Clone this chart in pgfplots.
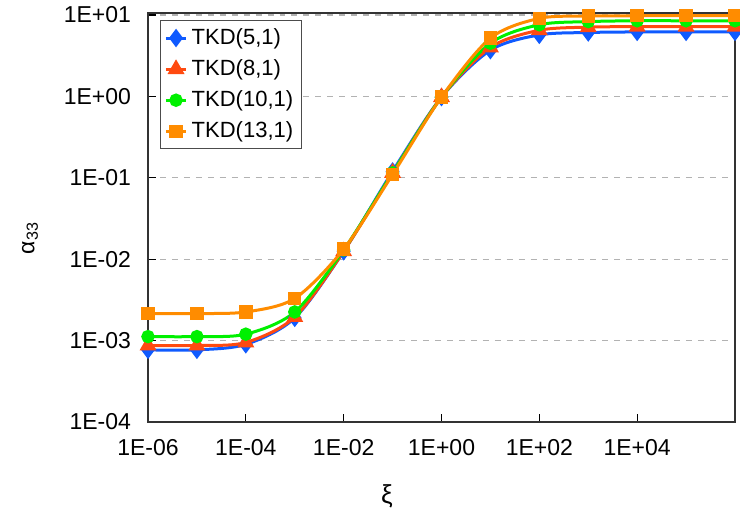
\documentclass[border=0pt]{standalone}
\usepackage{fontspec}
\setmainfont{Liberation Sans}
\usepackage{pgfplots}
\pgfplotsset{compat=1.18}
\definecolor{cBlue}{HTML}{0F5AFF}
\definecolor{cRed}{HTML}{FF4A10}
\definecolor{cGreen}{HTML}{00F000}
\definecolor{cOrange}{HTML}{FF8C00}

\begin{document}
\begin{tikzpicture}
\begin{axis}[
  scale only axis,
  width=293.5bp, height=204.5bp,
  xmode=log, ymode=log,
  xmin=1e-6, xmax=1e6,
  ymin=1e-4, ymax=10.59,
  xtick={1e-6,1e-4,1e-2,1,1e2,1e4},
  xticklabels={1E-06,1E-04,1E-02,1E+00,1E+02,1E+04},
  ytick={1e-4,1e-3,1e-2,1e-1,1,10},
  yticklabels={1E-04,1E-03,1E-02,1E-01,1E+00,1E+01},
  xminorticks=false, yminorticks=false,
  tick pos=left, tick align=inside,
  major tick length=4bp,
  tick style={draw=black, line width=0.6bp},
  axis line style={draw=black!80, line width=0.7bp},
  ymajorgrids,
  major grid style={dashed, draw=black!30, line width=0.6bp},
  tick label style={font=\fontsize{11.5bp}{13bp}\selectfont},
  yticklabel style={xshift=-5bp},
  xticklabel style={yshift=-5bp},
  xlabel={ξ},
  ylabel={α\textsubscript{33}},
  every axis x label/.style={at={(axis description cs:0.407,0)}, anchor=center, yshift=-37bp,
    font=\fontsize{13bp}{15bp}\selectfont},
  every axis y label/.style={at={(axis description cs:0,0.45)}, xshift=-59bp, anchor=center, rotate=90,
    font=\fontsize{11.5bp}{13bp}\selectfont},
  legend style={at={(axis description cs:0.02,0.983)}, anchor=north west,
    draw=black!70, line width=0.6bp, fill=white,
    font=\fontsize{11bp}{13bp}\selectfont,
    row sep=2.1bp, inner sep=2bp, cells={anchor=west}},
  legend image code/.code={\draw[mark repeat=2, mark phase=2] plot coordinates {(0cm,0cm) (0.18cm,0cm) (0.36cm,0cm)};},
  every axis plot/.append style={line width=1.5bp, smooth},
  clip=false,
]
\coordinate (ll) at (rel axis cs:0,0);
\coordinate (ur) at (rel axis cs:1,1);

\addplot[color=cBlue, mark=diamond*, mark size=3.4bp, mark options={solid}] coordinates {
  (1e-6,7.7e-4) (1e-5,7.7e-4) (1e-4,9.0e-4) (1e-3,1.9e-3) (1e-2,1.25e-2)
  (1e-1,1.2e-1) (1,0.98) (1e1,3.7) (1e2,5.7) (1e3,6.1) (1e4,6.2) (1e5,6.2) (1e6,6.2)};
\addlegendentry{TKD(5,1)}

\addplot[color=cRed, mark=triangle*, mark size=3.4bp, mark options={solid}] coordinates {
  (1e-6,8.7e-4) (1e-5,8.7e-4) (1e-4,9.5e-4) (1e-3,1.95e-3) (1e-2,1.25e-2)
  (1e-1,1.15e-1) (1,0.98) (1e1,4.0) (1e2,6.5) (1e3,7.1) (1e4,7.2) (1e5,7.2) (1e6,7.2)};
\addlegendentry{TKD(8,1)}

\addplot[color=cGreen, mark=*, mark size=2.6bp, mark options={solid}] coordinates {
  (1e-6,1.12e-3) (1e-5,1.12e-3) (1e-4,1.2e-3) (1e-3,2.25e-3) (1e-2,1.3e-2)
  (1e-1,1.15e-1) (1,0.98) (1e1,4.5) (1e2,7.6) (1e3,8.3) (1e4,8.5) (1e5,8.5) (1e6,8.5)};
\addlegendentry{TKD(10,1)}

\addplot[color=cOrange, mark=square*, mark size=2.6bp, mark options={solid}] coordinates {
  (1e-6,2.15e-3) (1e-5,2.15e-3) (1e-4,2.25e-3) (1e-3,3.3e-3) (1e-2,1.33e-2)
  (1e-1,1.1e-1) (1,0.98) (1e1,5.2) (1e2,9.1) (1e3,9.7) (1e4,9.8) (1e5,9.8) (1e6,9.8)};
\addlegendentry{TKD(13,1)}
\end{axis}
\pgfresetboundingbox
\path[use as bounding box] ([xshift=-74bp,yshift=-44bp]ll) rectangle ([xshift=2.5bp,yshift=6.5bp]ur);
\end{tikzpicture}
\end{document}
